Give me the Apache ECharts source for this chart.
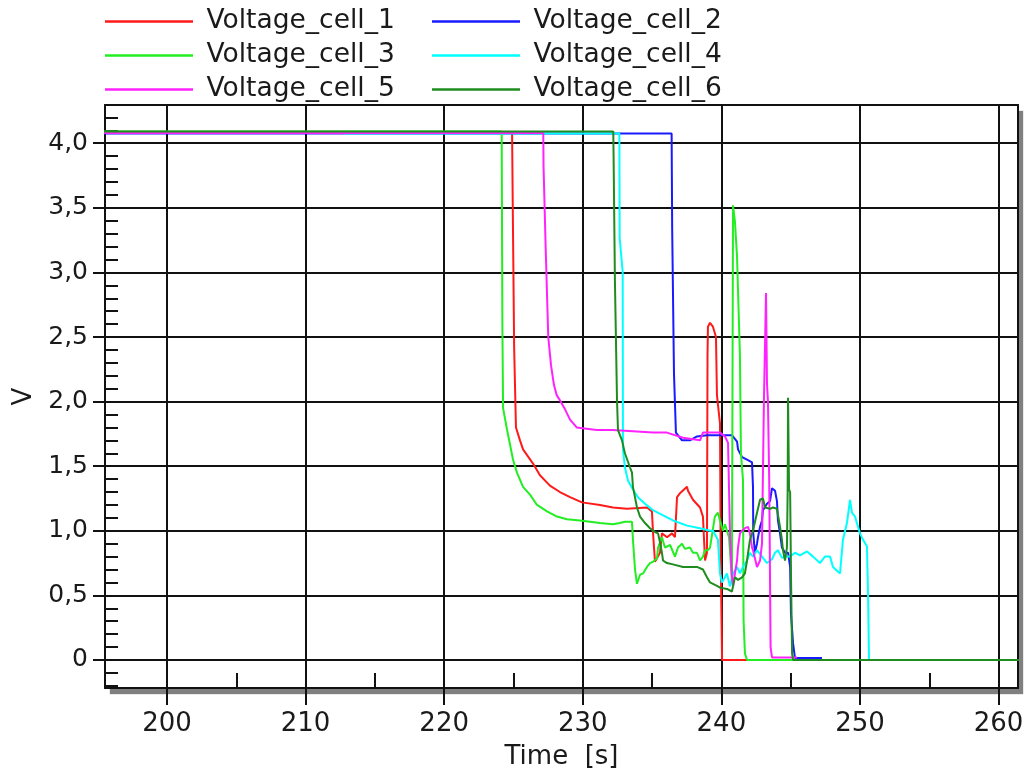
<!DOCTYPE html>
<html>
<head>
<meta charset="utf-8">
<script src="https://cdn.jsdelivr.net/npm/echarts@6/dist/echarts.min.js"></script>
<style>html,body{margin:0;padding:0;background:#fff;}#chart{width:1028px;height:776px;}</style>
</head>
<body>
<div id="chart"></div>
<script>
// ---- data ----
const seriesNames = ['Voltage_cell_1','Voltage_cell_2','Voltage_cell_3','Voltage_cell_4','Voltage_cell_5','Voltage_cell_6'];
const xTicks = [200,210,220,230,240,250,260];
const yTicks = [0,0.5,1,1.5,2,2.5,3,3.5,4];

const cell1 = [[195,4.08],[224.9,4.08],[224.95,3.5],[225.05,2.41],[225.18,1.8],[225.47,1.70],[225.69,1.63],[226.41,1.52],[226.91,1.43],[227.63,1.35],[228.35,1.30],[229.08,1.26],[229.94,1.22],[231.24,1.20],[232.18,1.18],[233.19,1.17],[234.63,1.18],[234.99,1.15],[235.07,0.98],[235.21,0.76],[235.57,0.83],[235.71,0.98],[236.08,0.95],[236.44,0.98],[236.65,0.95],[236.80,1.26],[237.01,1.29],[237.52,1.34],[237.59,1.31],[237.95,1.24],[238.46,1.18],[238.67,1.11],[238.82,0.77],[238.96,0.83],[239.0,2.36],[239.03,2.58],[239.18,2.61],[239.39,2.58],[239.61,2.5],[239.68,2.05],[239.82,2.05],[239.9,1.83],[239.95,0.8],[240.05,0],[262,0]];

const cell2 = [[195,4.075],[236.41,4.075],[236.45,3.34],[236.58,2.22],[236.72,1.76],[237.16,1.70],[237.73,1.70],[238.24,1.73],[238.96,1.74],[239.90,1.74],[240.76,1.74],[241.13,1.69],[241.20,1.63],[241.49,1.57],[241.85,1.55],[242.21,1.53],[242.28,1.34],[242.30,0.98],[242.42,0.83],[242.57,0.90],[242.64,0.95],[242.79,1.03],[242.93,1.08],[243.00,1.16],[243.29,1.21],[243.51,1.23],[243.65,1.33],[243.87,1.31],[244.01,1.23],[244.08,1.08],[244.23,0.98],[244.37,0.87],[244.59,0.83],[244.81,0.83],[244.96,0.72],[245.02,0.36],[245.17,0.13],[245.31,0.015],[247.26,0.015]];

const cell3 = [[195,4.09],[224.15,4.09],[224.2,2.59],[224.25,1.95],[224.54,1.78],[224.97,1.55],[225.25,1.45],[225.69,1.34],[226.19,1.28],[226.70,1.20],[227.42,1.15],[228.14,1.11],[228.86,1.09],[229.80,1.08],[231.24,1.06],[232.18,1.05],[232.68,1.06],[233.04,1.07],[233.55,1.07],[233.62,0.93],[233.77,0.70],[233.91,0.59],[234.13,0.66],[234.35,0.67],[234.63,0.72],[234.85,0.75],[235.07,0.76],[235.36,0.79],[235.43,0.87],[235.71,0.95],[235.93,0.87],[236.30,0.89],[236.65,0.80],[236.87,0.87],[237.16,0.90],[237.37,0.86],[237.73,0.87],[237.95,0.83],[238.24,0.83],[238.46,0.77],[238.67,0.80],[238.82,0.85],[239.03,0.85],[239.18,0.87],[239.53,1.11],[239.75,1.14],[239.90,1.08],[240.11,1.0],[240.26,1.05],[240.55,0.95],[240.76,0.62],[240.84,3.52],[240.98,3.39],[241.13,3.12],[241.27,3.12],[241.34,2.35],[241.41,1.6],[241.56,1.39],[241.60,0.31],[241.70,0.05],[241.85,0],[262,0]];

const cell4 = [[212.8,4.075],[232.64,4.075],[232.66,3.27],[232.88,3.0],[232.90,1.63],[233.04,1.49],[233.26,1.39],[233.62,1.32],[233.98,1.26],[234.49,1.21],[235.06,1.16],[235.79,1.12],[236.51,1.08],[237.52,1.04],[238.46,1.02],[239.18,1.0],[239.39,1.0],[239.75,0.93],[239.90,0.67],[240.04,0.60],[240.40,0.67],[240.62,0.57],[240.84,0.67],[241.13,0.72],[241.34,0.67],[241.56,0.72],[241.85,0.77],[242.06,0.83],[242.28,0.80],[242.57,0.85],[242.93,0.80],[243.29,0.75],[243.65,0.78],[243.87,0.83],[244.08,0.85],[244.37,0.79],[244.59,0.80],[244.96,0.80],[245.31,0.83],[245.67,0.81],[246.18,0.84],[246.61,0.80],[247.11,0.75],[247.47,0.80],[247.84,0.80],[248.05,0.72],[248.56,0.67],[248.77,0.93],[249.06,1.06],[249.28,1.24],[249.42,1.14],[249.64,1.11],[250.00,0.98],[250.22,0.93],[250.50,0.88],[250.58,0.52],[250.65,0],[250.7,0]];

const cell5 = [[195,4.08],[227.15,4.08],[227.17,3.82],[227.32,3.2],[227.51,2.5],[227.71,2.28],[227.92,2.13],[228.12,2.05],[228.35,2.01],[228.72,1.94],[229.08,1.86],[229.56,1.80],[231.0,1.78],[232.18,1.78],[235.06,1.76],[236.07,1.76],[237.23,1.72],[238.46,1.70],[238.67,1.76],[239.39,1.76],[239.90,1.76],[240.26,1.73],[240.48,1.68],[240.62,0.98],[240.76,0.64],[240.84,0.57],[240.98,0.67],[241.13,0.77],[241.20,0.87],[241.34,0.98],[241.49,1.0],[241.70,1.02],[241.92,1.03],[242.06,0.98],[242.21,0.87],[242.28,0.85],[242.57,0.72],[242.79,0.77],[242.93,0.9],[243.07,2.01],[243.22,2.84],[243.29,2.14],[243.36,2.0],[243.45,1.4],[243.55,0.1],[243.65,0.02],[245.45,0.02]];

const cell6 = [[195,4.09],[232.20,4.09],[232.22,3.93],[232.32,2.93],[232.47,2.01],[232.54,1.78],[232.83,1.70],[233.04,1.60],[233.41,1.49],[233.55,1.45],[233.62,1.34],[233.91,1.18],[234.13,1.11],[234.49,1.06],[234.85,1.02],[235.21,0.99],[235.43,0.98],[235.57,0.91],[235.71,0.83],[235.79,0.77],[236.07,0.75],[236.51,0.74],[237.23,0.72],[238.24,0.72],[238.67,0.70],[238.96,0.64],[239.18,0.60],[239.75,0.57],[239.90,0.56],[240.40,0.55],[240.76,0.53],[240.84,0.57],[240.98,0.64],[241.20,0.62],[241.49,0.64],[241.70,0.67],[241.85,0.77],[242.06,0.93],[242.28,1.0],[242.57,1.14],[242.79,1.24],[243.00,1.25],[243.15,1.18],[243.51,1.17],[243.72,1.18],[244.01,1.17],[244.23,1.03],[244.37,0.93],[244.44,0.85],[244.59,0.77],[244.73,0.87],[244.78,1.29],[244.81,2.03],[244.88,1.32],[244.96,1.30],[245.03,0.6],[245.10,0.05],[245.17,0],[262,0]];

const allData = [cell1, cell2, cell3, cell4, cell5, cell6];
const colors = ['#ff1a1a','#1a1aff','#22ee22','#00ffff','#ff22ff','#1e8c1e'];

// ---- chart ----
const FONT = 'DejaVu Sans';
const INK = '#111';
const chart = echarts.init(document.getElementById('chart'), null, {renderer: 'canvas'});

const legendCommon = {
  orient: 'vertical', top: 8, padding: 0, itemWidth: 88, itemHeight: 2.5, itemGap: 7,
  icon: 'rect', formatter: n => ' ' + n,
  textStyle: {fontFamily: FONT, fontSize: 26.5, color: '#1a1a1a', lineHeight: 26}
};

const xRange = {min: 195.53, max: 261.4};
const yRange = {min: -0.217, max: 4.296};
const frameAxis = {
  axisLine: {show: true, onZero: false, lineStyle: {color: INK, width: 2}},
  axisTick: {show: false}, axisLabel: {show: false}, splitLine: {show: false}
};

chart.setOption({
  animation: false,
  backgroundColor: '#fff',
  color: colors,
  legend: [
    Object.assign({}, legendCommon, {left: 105, data: [seriesNames[0], seriesNames[2], seriesNames[4]]}),
    Object.assign({}, legendCommon, {left: 432, data: [seriesNames[1], seriesNames[3], seriesNames[5]]})
  ],
  grid: {
    left: 105, right: 10, top: 105, bottom: 88,
    show: true, backgroundColor: '#fff', borderWidth: 0,
    shadowColor: 'rgb(128,128,128)', shadowBlur: 1, shadowOffsetX: 5, shadowOffsetY: 6
  },
  xAxis: [{
    type: 'value', min: xRange.min, max: xRange.max, splitNumber: 6,
    name: 'Time  [s]', nameLocation: 'middle', nameGap: 56,
    nameTextStyle: {fontFamily: FONT, fontSize: 26, color: '#1a1a1a'},
    axisLine: {show: true, onZero: false, lineStyle: {color: INK, width: 2}},
    axisTick: {show: true, length: 17, customValues: xTicks, lineStyle: {color: INK, width: 2}},
    minorTick: {show: true, splitNumber: 2, length: -15, lineStyle: {color: INK, width: 2}},
    axisLabel: {customValues: xTicks, margin: 23, fontFamily: FONT, fontSize: 26, color: '#1a1a1a'},
    splitLine: {show: true, lineStyle: {color: INK, width: 2}}
  }, Object.assign({type: 'value', position: 'top', min: xRange.min, max: xRange.max}, frameAxis)],
  yAxis: [{
    type: 'value', min: yRange.min, max: yRange.max, splitNumber: 9,
    name: 'V', nameLocation: 'middle', nameGap: 67,
    nameTextStyle: {fontFamily: FONT, fontSize: 26, color: '#1a1a1a'},
    axisLine: {show: true, onZero: false, lineStyle: {color: INK, width: 2}},
    axisTick: {show: true, length: 12, customValues: yTicks, lineStyle: {color: INK, width: 2}},
    minorTick: {show: true, splitNumber: 5, length: -13, lineStyle: {color: INK, width: 2}},
    axisLabel: {customValues: yTicks, margin: 17, fontFamily: FONT, fontSize: 25, color: '#1a1a1a',
      formatter: v => v === 0 ? '0' : v.toFixed(1).replace('.', ',')},
    splitLine: {show: true, lineStyle: {color: INK, width: 2}}
  }, Object.assign({type: 'value', position: 'right', min: yRange.min, max: yRange.max}, frameAxis)],
  series: allData.map((d, i) => ({
    name: seriesNames[i], type: 'line', data: d, symbol: 'none', showSymbol: false,
    xAxisIndex: 0, yAxisIndex: 0,
    lineStyle: {width: 2, color: colors[i]}, itemStyle: {color: colors[i]}, clip: true
  }))
});
</script>
</body>
</html>
